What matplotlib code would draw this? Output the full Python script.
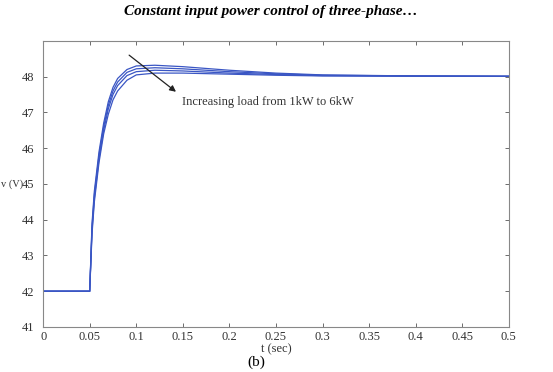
import matplotlib
matplotlib.use("Agg")
import matplotlib.pyplot as plt

# time axis (s) and output voltage (V) for loads 1kW ... 6kW (4 visible traces)
t = [0, 0.05, 0.0525, 0.055, 0.06, 0.065, 0.07, 0.075, 0.08, 0.09, 0.1,
     0.12, 0.15, 0.2, 0.25, 0.3, 0.4, 0.5]
v1 = [42, 42, 43.9, 44.8, 45.9, 46.7, 47.3, 47.7, 47.95, 48.2, 48.3,
      48.32, 48.28, 48.18, 48.1, 48.05, 48.02, 48.01]
v2 = [42, 42, 43.8, 44.7, 45.8, 46.6, 47.2, 47.6, 47.85, 48.12, 48.22,
      48.25, 48.22, 48.14, 48.08, 48.04, 48.02, 48.01]
v3 = [42, 42, 43.7, 44.6, 45.7, 46.5, 47.1, 47.5, 47.75, 48.03, 48.14,
      48.18, 48.16, 48.1, 48.06, 48.03, 48.02, 48.01]
v4 = [42, 42, 43.6, 44.5, 45.6, 46.4, 46.95, 47.35, 47.6, 47.9, 48.05,
      48.1, 48.1, 48.07, 48.04, 48.02, 48.01, 48.01]
series = [v1, v2, v3, v4]

xticks = [0, 0.05, 0.1, 0.15, 0.2, 0.25, 0.3, 0.35, 0.4, 0.45, 0.5]
xticklabels = ["0", "0.05", "0.1", "0.15", "0.2", "0.25", "0.3", "0.35", "0.4", "0.45", "0.5"]
yticks = [41, 42, 43, 44, 45, 46, 47, 48]

plt.rcParams['font.family'] = ['Liberation Serif', 'DejaVu Serif']

fig = plt.figure(figsize=(5.53, 3.72), dpi=100)
ax = fig.add_axes([0.078, 0.121, 0.842, 0.769])

for v in series:
    ax.plot(t, v, color='#3a56c4', lw=0.9)

ax.set_xlim(0, 0.5)
ax.set_ylim(41, 49)
ax.set_xticks(xticks)
ax.set_xticklabels(xticklabels)
ax.set_yticks(yticks)
ax.tick_params(direction='in', top=True, right=True, length=3, width=0.6,
               labelsize=9, colors='#555555', labelcolor='#333333')
ax.tick_params(axis='x', pad=3)
ax.tick_params(axis='y', pad=6.5)
for s in ax.spines.values():
    s.set_color('#888888')
    s.set_linewidth(0.8)

ax.set_xlabel('t (sec)', fontsize=9, color='#333333', labelpad=0)
ax.set_ylabel('v (V)', fontsize=7.5, color='#333333', rotation=0, va='center', ha='right')
ax.yaxis.set_label_coords(-0.044, 0.5)

# arrow and its label
ax.annotate('', xy=(0.145, 47.53), xytext=(0.09, 48.65),
            arrowprops=dict(arrowstyle='-|>', color='#222222', lw=0.9, mutation_scale=9))
ax.text(0.149, 47.28, 'Increasing load from 1kW to 6kW', fontsize=9, color='#333333',
        va='center', ha='left')

fig.text(0.49, 1 - 12 / 372, 'Constant input power control of three-phase\u2026',
         ha='center', va='center', fontsize=11, fontweight='bold', fontstyle='italic')
fig.text(256 / 553, 1 - 362 / 372, '(b)', ha='center', va='center', fontsize=11)

fig.savefig('out.png', dpi=100)
